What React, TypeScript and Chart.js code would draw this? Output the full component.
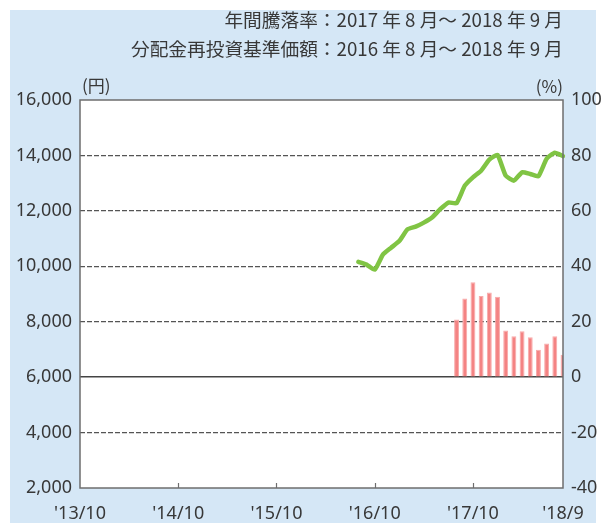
import React, { useEffect, useRef } from 'react';
import { Chart, registerables } from 'chart.js';

Chart.register(...registerables);

// Category months '13/10 ... '18/9
const months: string[] = [];
for (let i = 0; i < 60; i++) {
  const m = ((9 + i) % 12) + 1;
  const y = 13 + Math.floor((9 + i) / 12);
  months.push(`'${y}/${m}`);
}

const shownTickLabels = ["'13/10", "'14/10", "'15/10", "'16/10", "'17/10", "'18/9"];
const innerTickMarks = ["'14/10", "'15/10", "'16/10", "'17/10"];

// 分配金再投資基準価額 (円): '16/8 – '18/9
const navStart = "'16/8";
const navValues = [
  10160, 10060, 9880, 10420, 10670, 10910, 11330, 11430, 11575, 11760, 12060, 12300, 12280,
  12910, 13210, 13450, 13850, 14020, 13270, 13090, 13390, 13330, 13250, 13880, 14100, 13975,
];

// 年間騰落率 (%): '17/8 – '18/9
const returnStart = "'17/8";
const returnValues = [20.8, 28.4, 34.2, 29.3, 30.5, 29.0, 16.8, 14.8, 16.6, 14.4, 9.9, 12.1, 14.8, 8.1];

const headerLines = ['年間騰落率：2017 年 8 月～ 2018 年 9 月', '分配金再投資基準価額：2016 年 8 月～ 2018 年 9 月'];
const leftUnit = '(円)';
const rightUnit = '(%)';

const TEXT = '#383838';
const NUM_FONT = '"Noto Sans", sans-serif';
const JP_FONT = '"Noto Sans CJK JP", sans-serif';

function place(start: string, values: number[]): (number | null)[] {
  const out: (number | null)[] = months.map(() => null);
  const s = months.indexOf(start);
  values.forEach((v, k) => {
    out[s + k] = v;
  });
  return out;
}

const panelPlugin = {
  id: 'panel',
  beforeDraw(chart: any) {
    const { ctx, chartArea } = chart;
    ctx.save();
    ctx.fillStyle = '#ffffff';
    ctx.fillRect(0, 0, chart.width, chart.height);
    ctx.fillStyle = '#d5e7f6';
    ctx.fillRect(10, 10, 586, 513);
    ctx.fillStyle = '#ffffff';
    ctx.fillRect(chartArea.left, chartArea.top, chartArea.right - chartArea.left, chartArea.bottom - chartArea.top);
    ctx.restore();
  },
  afterDraw(chart: any) {
    const { ctx, chartArea } = chart;
    const xs = chart.scales.x;
    ctx.save();
    ctx.strokeStyle = '#6e6e6e';
    ctx.lineWidth = 1.5;
    ctx.strokeRect(chartArea.left, chartArea.top, chartArea.right - chartArea.left, chartArea.bottom - chartArea.top);
    ctx.lineWidth = 1.2;
    innerTickMarks.forEach((l) => {
      const x = Math.round(xs.getPixelForValue(months.indexOf(l))) + 0.5;
      ctx.beginPath();
      ctx.moveTo(x, chartArea.bottom);
      ctx.lineTo(x, chartArea.bottom - 5);
      ctx.stroke();
    });
    ctx.fillStyle = TEXT;
    ctx.textBaseline = 'middle';
    ctx.font = `18.7px ${JP_FONT}`;
    ctx.textAlign = 'right';
    ctx.fillText(headerLines[0], chartArea.right, 20);
    ctx.fillText(headerLines[1], chartArea.right, 49);
    ctx.font = `17px ${JP_FONT}`;
    ctx.textAlign = 'left';
    ctx.fillText(leftUnit, chartArea.left + 2, 86);
    ctx.textAlign = 'right';
    ctx.fillText(rightUnit, chartArea.right, 87);
    ctx.restore();
  },
};

export default function App() {
  const ref = useRef<HTMLCanvasElement | null>(null);

  useEffect(() => {
    if (!ref.current) return;
    const chart = new Chart(ref.current, {
      type: 'bar',
      data: {
        labels: months,
        datasets: [
          {
            type: 'line',
            label: '分配金再投資基準価額',
            data: place(navStart, navValues),
            yAxisID: 'y',
            borderColor: '#80c444',
            borderWidth: 4.5,
            pointRadius: 0,
            borderCapStyle: 'round',
            borderJoinStyle: 'round',
            tension: 0.15,
            spanGaps: false,
            order: 0,
          } as any,
          {
            type: 'bar',
            label: '年間騰落率',
            data: place(returnStart, returnValues),
            yAxisID: 'y2',
            backgroundColor: '#f48383',
            borderColor: '#f8aaaa',
            borderWidth: 1,
            categoryPercentage: 1,
            barPercentage: 0.6,
            order: 1,
          } as any,
        ],
      },
      options: {
        responsive: false,
        animation: false,
        devicePixelRatio: 1,
        layout: { padding: { top: 100, left: 0, right: 0, bottom: 0 } },
        plugins: {
          legend: { display: false },
          tooltip: { enabled: false },
          title: { display: false },
        },
        scales: {
          x: {
            type: 'category',
            offset: false,
            grid: { display: false },
            border: { display: false },
            ticks: {
              autoSkip: false,
              maxRotation: 0,
              minRotation: 0,
              padding: 7,
              color: TEXT,
              font: { family: NUM_FONT, size: 18 },
              callback: (_v: any, i: number) => (shownTickLabels.includes(months[i]) ? months[i] : ''),
            },
            afterFit: (s: any) => {
              s.height = 39;
            },
          },
          y: {
            position: 'left',
            min: 2000,
            max: 16000,
            ticks: {
              stepSize: 2000,
              padding: 8,
              color: TEXT,
              font: { family: NUM_FONT, size: 18 },
              callback: (v: any) => Number(v).toLocaleString('en-US'),
            },
            grid: {
              drawTicks: false,
              lineWidth: 1.2,
              color: (c: any) =>
                c.tick && (c.tick.value === 6000 || c.tick.value === 2000 || c.tick.value === 16000)
                  ? 'rgba(0,0,0,0)'
                  : '#555555',
            },
            border: { display: false, dash: [5, 2] },
            afterFit: (s: any) => {
              s.width = 80;
            },
          },
          y2: {
            position: 'right',
            min: -40,
            max: 100,
            ticks: {
              stepSize: 20,
              padding: 8,
              color: TEXT,
              font: { family: NUM_FONT, size: 18 },
            },
            grid: {
              drawTicks: false,
              lineWidth: 1.5,
              color: (c: any) => (c.tick && c.tick.value === 0 ? '#444444' : 'rgba(0,0,0,0)'),
            },
            border: { display: false },
            afterFit: (s: any) => {
              s.width = 43;
            },
          },
        },
      } as any,
      plugins: [panelPlugin],
    });
    return () => chart.destroy();
  }, []);

  return (
    <div style={{ position: 'fixed', left: 0, top: 0, width: 606, height: 527 }}>
      <canvas ref={ref} width={606} height={527} style={{ width: 606, height: 527, display: 'block' }} />
    </div>
  );
}
